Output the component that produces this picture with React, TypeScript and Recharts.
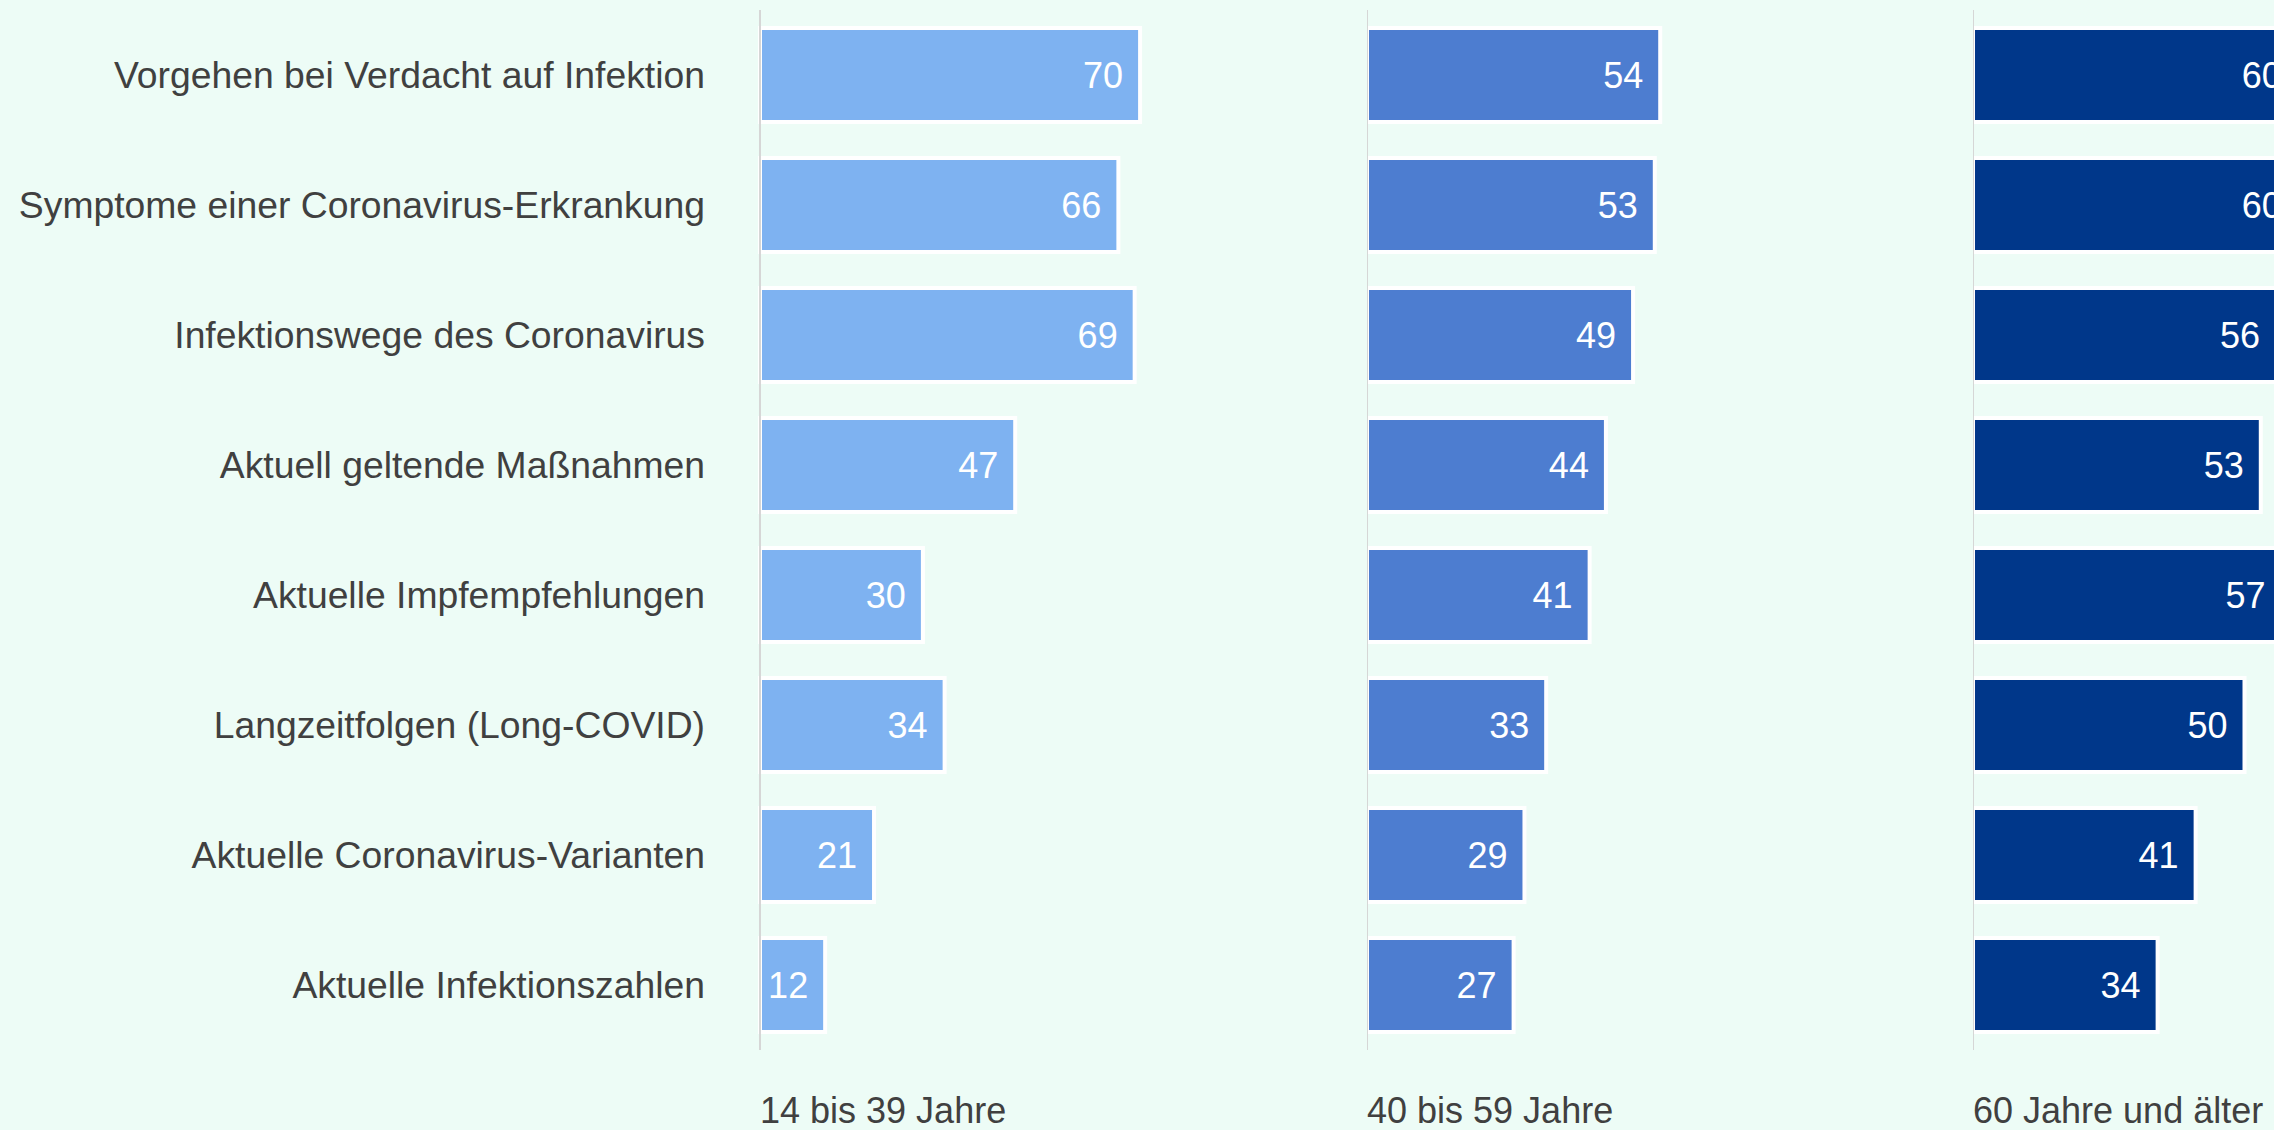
import React from "react";
import { BarChart, Bar, XAxis, YAxis, LabelList, ReferenceLine } from "recharts";

const categories = [
    "Vorgehen bei Verdacht auf Infektion",
    "Symptome einer Coronavirus-Erkrankung",
    "Infektionswege des Coronavirus",
    "Aktuell geltende Maßnahmen",
    "Aktuelle Impfempfehlungen",
    "Langzeitfolgen (Long-COVID)",
    "Aktuelle Coronavirus-Varianten",
    "Aktuelle Infektionszahlen",
];

const groupTitles = ["14 bis 39 Jahre", "40 bis 59 Jahre", "60 Jahre und älter"];

const young = [70, 66, 69, 47, 30, 34, 21, 12];
const middle = [54, 53, 49, 44, 41, 33, 29, 27];
const old = [60, 60, 56, 53, 57, 50, 41, 34];

const COLORS = ["#7eb2f1", "#4d7dd0", "#00378a"];
const TEXT = "#404040";
const FONT = "'Liberation Sans', Arial, sans-serif";

const AxisTitle = (props: any) => {
    const vb = props.viewBox || { x: 0, y: 1050 };
    return (
        <text x={vb.x} y={vb.y + 73} fill={TEXT} fontSize={36} fontFamily={FONT}>
            {props.text}
        </text>
    );
};

function Panel({ values, color, title, withLabels }: { values: number[]; color: string; title: string; withLabels: boolean }) {
    const rows = categories.map((name, i) => ({ name, value: values[i] }));
    const axisWidth = withLabels ? 760 : 0;
    const width = axisWidth + 607;

    return (
        <BarChart
            width={width}
            height={1130}
            data={rows}
            layout="vertical"
            margin={{ top: 10, right: 64, bottom: 0, left: 0 }}
            barCategoryGap={0}
        >
            <XAxis
                type="number"
                domain={[0, 100]}
                height={80}
                tick={false}
                tickLine={false}
                axisLine={false}
                label={<AxisTitle text={title} />}
            />
            <YAxis
                type="category"
                dataKey="name"
                width={axisWidth}
                hide={!withLabels}
                axisLine={false}
                tickLine={false}
                tickSize={0}
                tickMargin={55}
                tick={{ fill: TEXT, fontSize: 37.3, fontFamily: FONT }}
                interval={0}
            />
            <Bar dataKey="value" fill={color} stroke="#ffffff" strokeWidth={4} barSize={94} isAnimationActive={false}>
                <LabelList dataKey="value" position="insideRight" offset={17} fill="#ffffff" fontSize={36} fontFamily={FONT} />
            </Bar>
            <ReferenceLine x={0} stroke="#d6d6d6" strokeWidth={2} />
        </BarChart>
    );
}

export default function App() {
    const series = [young, middle, old];
    const lefts = [0, 1367, 1973];

    return (
        <div style={{ position: "absolute", left: 0, top: 0, width: 2274, height: 1130, overflow: "hidden", background: "#edfcf6", fontFamily: FONT }}>
            {series.map((values, i) => (
                <div key={i} style={{ position: "absolute", left: lefts[i], top: 0 }}>
                    <Panel values={values} color={COLORS[i]} title={groupTitles[i]} withLabels={i === 0} />
                </div>
            ))}
        </div>
    );
}
